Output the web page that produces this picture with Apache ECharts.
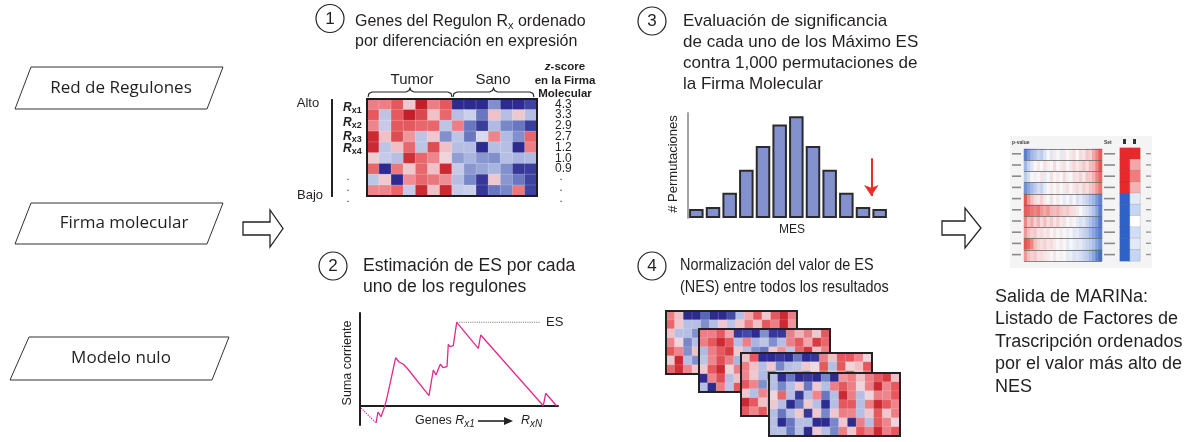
<!DOCTYPE html>
<html><head><meta charset="utf-8">
<script src="https://cdn.jsdelivr.net/npm/echarts@6/dist/echarts.min.js"></script>
<style>html,body{margin:0;padding:0;background:#fff}#c{width:1189px;height:442px}</style>
</head><body><div id="c"></div>
<script>
// ---------------- DATA ----------------
// Step 1: regulon genes x samples (z-like expression, + red / - blue)
const step1Cols = ['T1','T2','T3','T4','T5','T6','T7','S1','S2','S3','S4','S5','S6','S7'];
const step1Rows = ['g1','g2','g3','g4','g5','g6','g7','g8','g9'];
const step1Matrix = [
  [1.5, 1.5, 2, 0.5, 3, 1.5, 2, -3, -3, -3, -1.5, -3, -3, -2.6],
  [2, -0.7, 2, 3, 2.3, 0.6, 1.8, -0.8, -0.5, -1.8, 0.6, -0.8, 0.5, -0.8],
  [1.4, -0.6, 2, 2, 1.8, 1.8, -0.7, 1.5, -1.8, -2.7, -0.9, -1.6, -1.8, -2.7],
  [2.8, 0.6, 2.2, 1.2, -0.7, 0.5, -1.5, -0.7, -1.8, -0.3, 1.4, -0.9, -1.5, 1.8],
  [2.8, -0.7, 0.6, 1.8, -0.7, 2.2, 0.6, -0.8, -0.8, -3, -0.8, -0.8, -3, 1.5],
  [0.4, -0.6, -0.8, 2.7, 1.8, 1.4, 0.3, -1.3, -1, -1.4, -1.5, -0.8, -1, -0.9],
  [1.8, -3, 1.6, 0.5, 1.8, 0.6, 2.8, -0.6, -1.4, -1.2, -1, -1.5, -2.8, -2.7],
  [-0.7, 0.5, -3, 1.3, 1.8, 1.6, 1.3, -0.8, -1.6, -2.8, 0.5, -1.4, -1.8, -2.6],
  [1.4, 1.4, 1.8, -0.6, 2.8, 0.6, 2.8, -0.6, -0.5, -2.8, -1.8, -1.6, 1.6, -2.6]
];
const zScoreLabels = ['4.3','3.3','2.9','2.7','1.2','1.0','0.9','',''];
const regulonLabels = ['x1','x2','x3','x4'];

// Step 3: null distribution of MES over 1,000 permutations
const histBins = [0.5,1.5,2.5,3.5,4.5,5.5,6.5,7.5,8.5,9.5,10.5,11.5];
const histCounts = [17,21,48,92,137,178,194,137,92,48,21,17];
const observedMES = 11;

// Step 2: running sum
const runX = [16,18,21,22.7,25,27.7,29.7,35.7,39,43,45,47,69,73.3,76,80.3,83.3,87,88.3,90,93.3,96.7,118.3,120.7,183.3,185.7,196.7];
const runY = [-17,-6,-10.7,-11.3,0.3,11.7,10.3,48.3,44,42,42,38,10.3,36,31,41.7,38.3,39.3,61.7,59.3,60.3,83.7,57.7,71,0.3,12.7,0];
const startX = [1,16];
const startY = [-2,-17];
const esX = [97,180];
const esY = [83.7,83.7];

// Step 4: four normalised heatmaps (7 rows x 15 cols)
const panelCols = ['c1','c2','c3','c4','c5','c6','c7','c8','c9','c10','c11','c12','c13','c14','c15'];
const panelRows = ['r1','r2','r3','r4','r5','r6','r7'];
const panel1 = [
  [1.5, 0.6, -3, -3, -2, -3, -3, -2.5, -0.8, 1, 2, 0.5, 2, 2.8, 1.5],
  [1.8, 0.5, -0.8, -0.8, -1.5, -0.8, 0.5, -0.7, 0.5, 1.5, 0.6, 2, 1.5, 2.8, 1.2],
  [0.6, -0.8, -0.8, -1.5, 1, -1, 0.5, 1.5, -0.8, 1, 2, 0.6, -0.7, 1.5, 2],
  [1.4, 0.3, -1.6, -0.8, 0.6, 1.5, -1, 2, 0.5, -0.8, 1.5, 2.5, 1, 0.6, 1.8],
  [2, 1.4, -1.5, 0.6, -0.9, 1.8, 0.5, -1.2, 2.2, 1, -0.6, 1.5, 2, -0.8, 1.2],
  [0.5, 2.8, -0.8, -1.5, 1.6, 0.4, -0.9, 1.8, 0.6, 2.6, 1.2, -1, 0.5, 1.8, 2.4],
  [1.8, 2.7, 1.4, 0.5, 2.2, -0.7, 1.5, 0.4, 1.9, -1.1, 2.6, 1.3, 0.5, 2, 1.4]
];
const panel2 = [
  [1.5, 1.5, 2, 1, -2.8, -2.5, -3, -1.5, -2.8, -2.8, 1.5, 0.8, 1.5, 0.5, 2],
  [1.5, 2, 2.8, 2, -0.8, 1.5, -1, -0.7, -1.5, -0.8, 1.5, 2, 1, 2.5, 1.8],
  [-0.9, 1.5, 2, 2.5, 0.5, -0.8, -1.5, -1.8, 0.5, 1.2, -0.7, 1.8, 2.6, 0.6, 1.5],
  [-0.7, 1.4, 2.2, 1.5, -1, 0.6, 1.8, -0.8, 1.2, 2, 0.4, -1.3, 1.6, 2.2, 0.8],
  [0.5, 2, 2.8, 0.3, 1.5, -0.9, 0.5, 2.4, -0.6, 1.3, 1.8, 0.6, -0.8, 1.4, 2],
  [-3, 1.4, 2.2, -0.8, 0.6, 1.9, -1.2, 0.4, 2.1, -0.7, 1.5, 2.4, 0.6, -1, 1.3],
  [-0.8, -3, 1.5, -0.7, 2, 0.5, 1.6, -0.9, 0.7, 2.3, -1.2, 0.8, 1.9, 0.5, 2.2]
];
const panel3 = [
  [0.6, 2, -3, -3, -2.8, -3, -1.8, -3, -2.8, 1.5, 0.6, 2, 2, 1.4, 0.3],
  [1.5, 0.6, -0.8, 0.5, -1.6, -0.8, -0.7, 0.5, 0.2, 2, -0.8, 2, 0.3, 0.6, 2],
  [1.4, 0.5, -0.9, -1.5, 0.6, -0.8, 1.2, -1.4, 0.5, 1.8, -0.6, 1.2, 2.1, 0.5, 1.6],
  [2, 1.4, -1.5, -0.8, 1.8, 0.6, -1.3, 2, 0.4, -0.9, 1.5, 2.3, 0.6, 1.1, -0.7],
  [0.5, -0.8, 1.4, 1.2, -0.7, 1.9, 0.5, -1.1, 2.2, 1, -0.8, 0.6, 1.8, 2.4, 0.9],
  [2.8, 2, 0.6, -0.9, 1.4, 0.3, 2.1, 0.8, -1.2, 1.6, 2.5, -0.6, 0.9, 1.5, 2],
  [2, 1.4, 2, 0.7, -1, 1.5, 0.6, 2.2, 1.3, -0.8, 0.5, 1.9, 2.4, 0.7, 1.2]
];
const panel4 = [
  [-0.8, -3, -1.8, -3, -2.8, -3, -1.6, -3, 1.2, 1.5, 0.6, 1.5, 2, 2.5, 0.6],
  [-0.8, -1.6, -0.8, 0.5, -1.8, 0.5, -0.8, 1.5, 2, 1.5, 0.3, 1.5, 2.8, 1.4, 2],
  [0.3, 1.8, -0.8, -2.8, -0.8, 1.4, -1.8, -0.8, 2.8, 1.5, -0.8, 0.3, 1.5, 1.4, 2],
  [0.5, -0.8, -3, -1.8, 0.5, -0.8, -3, -0.8, 2, 2, -0.8, 1.5, 2.8, 2, 1.4],
  [-0.8, -1.8, -0.8, 0.5, -2.8, 0.5, -1.6, 0.5, 1.5, 1.4, -0.8, 0.5, 2, 0.5, 1.5],
  [-0.8, -3, -1.8, -0.8, -0.8, -3, -3, -1.6, 0.5, -3, 1.5, -0.8, 2, 1.4, 0.3],
  [-0.8, -0.8, -1.8, -0.8, -3, 0.5, -0.8, -1.6, 1.5, 0.5, 2, 1.5, 2.8, 1.5, 2]
];

// Output: MARINa barcode rows and NES columns
const barcodeCols = Array.from({length: 24}, (_, i) => 'b' + i);
const barcodeRows = ['t1','t2','t3','t4','t5','t6','t7','t8','t9','t10'];
const barcodeMatrix = [
  [-2.5,-2,-1.5,-1.2,-0.8,-1,-0.5,0,-0.4,0.3,0,-0.3,0.4,0,0.3,0.5,0,0.6,0.4,1,0.8,1.6,2,2.5],
  [-1.5,-0.8,-0.4,0,0.3,0,0.5,0.2,0,0.6,0,0.3,0.5,0,0.4,0.7,0.3,0.6,1,0.5,1.2,1.4,2,2.6],
  [-1,-0.6,0,0.2,0,0.4,-0.3,0,0.5,0,0.3,0,0.6,0.2,0,0.5,0.4,0.8,0.3,1,0.9,1.5,2,2.4],
  [-2.2,-1.8,-1.4,-1,-0.6,-0.8,-0.3,0,0.3,0,0.4,0,0.3,0.5,0,0.4,0.6,0.3,0.8,0.5,1,1.3,1.8,2.2],
  [2.6,1.8,1.2,0.6,0.4,0.8,0.3,0,0.5,0,0.3,0,-0.3,0,-0.4,0,-0.5,-0.3,-0.6,-0.8,-1.2,-1.5,-2,-2.4],
  [2.5,2.4,2.2,2,2.2,1.8,1.6,1.8,1.4,1.2,1.5,1,0.8,1,0.6,0.5,0.3,0,-0.3,-0.5,-0.8,-1.2,-1.8,-2.5],
  [2,1.2,1.6,0.8,1.4,0.6,1.2,0.5,1,0.4,0.8,0.3,0.5,0,0.3,0,-0.3,-0.5,-0.4,-0.8,-1.2,-1.6,-2,-2.6],
  [1.8,1.2,0.8,1,0.4,0.6,0.3,0.5,0,0.4,0,0.3,0,-0.2,0,-0.4,-0.3,-0.6,-0.8,-1,-1.5,-1.8,-2.2,-2.5],
  [2.6,2.4,2,1.2,0.8,0.5,0.8,0.4,0.6,0.3,0,0.3,0,-0.3,0,-0.2,-0.4,-0.3,-0.6,-0.8,-1,-1.3,-1.8,-2.2],
  [1.8,1.2,0.8,1,0.5,0.6,0.4,0.3,0,0.4,0,0.2,0,-0.3,-0.2,-0.5,-0.4,-0.6,-0.8,-1,-1.4,-1.8,-2.4,-2.8]
];
const nesCol1 = [3,3,3,3,-3,-3,-3,-3,-3,-3];
const nesCol2 = [3,1.5,2,1.3,-0.5,-1,0,-0.8,-0.5,-1];

// ---------------- BUILD ----------------
const FF = '"Liberation Sans", Arial, Helvetica, sans-serif';
const FP = '"Open Sans", "Noto Sans", sans-serif';
const INK = '#231f20';

function cells(m) {
  const out = [];
  m.forEach((row, r) => row.forEach((v, c) => out.push([c, r, v])));
  return out;
}
function txt(x, y, text, size, o) {
  o = o || {};
  const st = {
    text: text, fontSize: size, fontFamily: o.family || FF, fill: o.fill || INK,
    fontWeight: o.weight || 'normal', fontStyle: o.fstyle || 'normal',
    align: o.align || 'left', textAlign: o.align || 'left',
    verticalAlign: 'middle', textVerticalAlign: 'middle'
  };
  if (o.rich) st.rich = o.rich;
  const el = { type: 'text', x: x, y: y, z: 20, style: st };
  if (o.rotation) el.rotation = o.rotation;
  if (o.scaleX) el.scaleX = o.scaleX;
  return el;
}
const heatColors = ['#2d2b8f', '#5868b8', '#a9b5e0', '#ece9f1', '#f2a5ab', '#e5585e', '#c41f28'];

const G = [];
// input parallelograms
const para = (pts) => ({ type: 'polygon', z: 5, shape: { points: pts }, style: { fill: '#fff', stroke: '#333', lineWidth: 1 } });
G.push(para([[31,67],[223,67],[207,109],[15,109]]));
G.push(para([[31,203],[223,203],[207,244],[15,244]]));
G.push(para([[29,337],[229,337],[212,380],[10,380]]));
G.push(txt(121, 88, 'Red de Regulones', 17, { family: FP, align: 'center' }));
G.push(txt(124, 223, 'Firma molecular', 17, { family: FP, align: 'center' }));
G.push(txt(121, 358, 'Modelo nulo', 17, { family: FP, align: 'center' }));
// block arrows
const blockArrow = (x0, xh, xt, y0, y1, h0, h1) => ({
  type: 'polygon', z: 5,
  shape: { points: [[x0,y0],[xh,y0],[xh,h0],[xt,(h0+h1)/2],[xh,h1],[xh,y1],[x0,y1]] },
  style: { fill: '#fff', stroke: '#222', lineWidth: 1.3 }
});
G.push(blockArrow(243, 270, 283, 222, 235, 210, 247));
G.push(blockArrow(942, 965, 981, 221, 235, 208, 248));
// numbered circles
[[330,18.5,'1'],[333,266,'2'],[652,21,'3'],[652,266,'4']].forEach(c => {
  G.push({ type: 'circle', z: 20, shape: { cx: c[0], cy: c[1], r: 14 }, style: { fill: 'none', stroke: '#222', lineWidth: 1.2 } });
  G.push(txt(c[0], c[1] + 0.5, c[2], 17, { align: 'center' }));
});
const subRich = { s: { fontSize: 11, fontFamily: FF, fill: INK, padding: [7, 0, 0, 0] } };
// step titles
G.push(txt(355, 22, 'Genes del Regulon R{s|x} ordenado', 16, { rich: subRich }));
G.push(txt(355, 42, 'por diferenciación en expresión', 16));
G.push(txt(363, 266, 'Estimación de ES por cada', 17.6));
G.push(txt(363, 287, 'uno de los regulones', 17.6));
G.push(txt(683, 21, 'Evaluación de significancia', 17));
G.push(txt(683, 42, 'de cada uno de los Máximo ES', 17));
G.push(txt(683, 63, 'contra 1,000 permutaciones de', 17));
G.push(txt(683, 84, 'la Firma Molecular', 17));
G.push(txt(680, 265, 'Normalización del valor de ES', 17, { scaleX: 0.85 }));
G.push(txt(680, 287, '(NES) entre todos los resultados', 17, { scaleX: 0.85 }));
['Salida de MARINa:', 'Listado de Factores de', 'Trascripción ordenados', 'por el valor más alto de', 'NES']
  .forEach((t, i) => G.push(txt(995, 297 + i * 22.5, t, 18)));
// step 1 annotations
G.push(txt(412, 80, 'Tumor', 15, { align: 'center' }));
G.push(txt(493, 80, 'Sano', 15, { align: 'center' }));
const brace = (a, b, y) => {
  const m = (a + b) / 2;
  return { type: 'polyline', z: 20, shape: { points: [[a,y+5],[a+1,y+1.5],[a+4,y],[m-4,y],[m-1,y-1.5],[m,y-4],[m+1,y-1.5],[m+4,y],[b-4,y],[b-1,y+1.5],[b,y+5]] },
    style: { stroke: '#222', fill: 'none', lineWidth: 1.1 } };
};
G.push(brace(368, 452, 92));
G.push(brace(453, 534, 92));
G.push(txt(565, 67, '{i|z}-score', 11.5, { weight: 'bold', align: 'center', rich: { i: { fontStyle: 'italic', fontWeight: 'bold', fontSize: 11.5, fontFamily: FF, fill: INK } } }));
G.push(txt(565, 81, 'en la Firma', 11.5, { weight: 'bold', align: 'center' }));
G.push(txt(565, 94, 'Molecular', 11.5, { weight: 'bold', align: 'center' }));
G.push(txt(308, 103, 'Alto', 13, { align: 'center' }));
G.push(txt(310, 195, 'Bajo', 13, { align: 'center' }));
G.push({ type: 'line', z: 20, shape: { x1: 332, y1: 99, x2: 332, y2: 197 }, style: { stroke: '#222', lineWidth: 2 } });
const rRich = { s: { fontSize: 9, fontWeight: 'bold', fontFamily: FF, fill: INK, padding: [6, 0, 0, 0] } };
[108, 123, 137, 149].forEach((y, i) =>
  G.push(txt(343, y, 'R{s|' + regulonLabels[i] + '}', 12, { weight: 'bold', fstyle: 'italic', rich: rRich })));
G.push(txt(348, 188, '.\n.\n.', 11, { align: 'center' }));
G.push(txt(561, 188, '.\n.\n.', 11, { align: 'center' }));
// step 3 labels
G.push(txt(792, 230, 'MES', 12, { align: 'center' }));
G.push(txt(673, 164, '# Permutaciones', 13, { align: 'center', rotation: Math.PI / 2 }));
// step 2 labels
G.push(txt(348, 363, 'Suma corriente', 12.5, { align: 'center', rotation: Math.PI / 2 }));
const gRich = { r: { fontSize: 12.5, fontStyle: 'italic', fontFamily: FF, fill: INK }, s: { fontSize: 10, fontStyle: 'italic', fontFamily: FF, fill: INK, padding: [6, 0, 0, 0] } };
G.push(txt(415, 421, 'Genes {r|R}{s|x1}', 12.5, { rich: gRich }));
G.push({ type: 'line', z: 20, shape: { x1: 478, y1: 421, x2: 506, y2: 421 }, style: { stroke: '#222', lineWidth: 1.6 } });
G.push({ type: 'polygon', z: 20, shape: { points: [[504,417],[513,421],[504,425]] }, style: { fill: '#222' } });
G.push(txt(521, 421, '{r|R}{s|xN}', 12.5, { rich: gRich }));
// output thumbnail decorations
G.push({ type: 'rect', z: 0, shape: { x: 1010, y: 136, width: 142, height: 132 }, style: { fill: '#f4f4f4' } });
G.push(txt(1012, 143, 'p-value', 5, { weight: 'bold', fill: '#444' }));
G.push(txt(1104, 143, 'Set', 5, { weight: 'bold', fill: '#444' }));
G.push({ type: 'rect', z: 20, shape: { x: 1123, y: 139, width: 3, height: 5 }, style: { fill: '#333' } });
G.push({ type: 'rect', z: 20, shape: { x: 1133, y: 139, width: 3, height: 5 }, style: { fill: '#333' } });
for (let i = 0; i < 10; i++) {
  const y = 153 + i * 11.2;
  G.push({ type: 'rect', z: 20, shape: { x: 1012, y: y, width: 9, height: 1.6 }, style: { fill: '#8a8a8a' } });
  G.push({ type: 'rect', z: 20, shape: { x: 1104, y: y, width: 11, height: 1.6 }, style: { fill: '#8a8a8a' } });
  G.push({ type: 'rect', z: 20, shape: { x: 1146, y: y, width: 5, height: 1.4 }, style: { fill: '#9a9a9a' } });
}

// grids
const panelPos = [[666,311],[699,329],[741,353],[769,373]];
const grids = [
  { left: 367, top: 99, width: 170, height: 97, show: true, borderColor: '#1e1e1e', borderWidth: 2, z: 3 },
  { left: 688, top: 113, width: 200, height: 105 },
  { left: 360, top: 313, width: 198, height: 112 }
];
panelPos.forEach((p, k) => grids.push({ left: p[0], top: p[1], width: 131, height: 63, show: true, borderColor: '#222', borderWidth: 2, z: 3 + 2 * k }));
grids.push({ left: 1024, top: 149, width: 78, height: 112 });
grids.push({ left: 1120, top: 148, width: 20, height: 113 });

const hidden = { show: false };
const xAxes = [
  { type: 'category', gridIndex: 0, data: step1Cols, show: false },
  { type: 'value', gridIndex: 1, min: 0, max: 12, show: false },
  { type: 'value', gridIndex: 2, min: 0, max: 198, axisLine: { show: true, onZero: true, lineStyle: { color: '#1e1e1e', width: 2 } }, axisTick: hidden, axisLabel: hidden, splitLine: hidden }
];
const yAxes = [
  { type: 'category', gridIndex: 0, data: step1Rows, inverse: true, show: false },
  { type: 'category', gridIndex: 0, data: zScoreLabels, inverse: true, position: 'right', axisLine: hidden, axisTick: hidden, splitLine: hidden,
    axisLabel: { show: true, interval: 0, margin: 18, fontSize: 12, fontFamily: FF, color: INK, padding: [4, 0, 0, 0] } },
  { type: 'value', gridIndex: 1, min: 0, max: 200, axisLine: { show: true, lineStyle: { color: '#a3a3a3', width: 2 } }, axisTick: hidden, axisLabel: hidden, splitLine: hidden },
  { type: 'value', gridIndex: 2, min: -19, max: 93, axisLine: { show: true, onZero: true, lineStyle: { color: '#1e1e1e', width: 2 } }, axisTick: hidden, axisLabel: hidden, splitLine: hidden }
];
for (let k = 0; k < 4; k++) {
  xAxes.push({ type: 'category', gridIndex: 3 + k, data: panelCols, show: false });
  yAxes.push({ type: 'category', gridIndex: 3 + k, data: panelRows, inverse: true, show: false });
}
xAxes.push({ type: 'category', gridIndex: 7, data: barcodeCols, show: false });
yAxes.push({ type: 'category', gridIndex: 7, data: barcodeRows, inverse: true, z: 6, axisLine: hidden, axisTick: hidden, axisLabel: hidden,
  splitLine: { show: true, interval: 0, lineStyle: { color: '#6a6a6a', width: 0.8 } } });
xAxes.push({ type: 'category', gridIndex: 8, data: ['NES1', 'NES2'], show: false });
yAxes.push({ type: 'category', gridIndex: 8, data: barcodeRows, inverse: true, show: false });

const nesMatrix = nesCol1.map((v, i) => [v, nesCol2[i]]);

const series = [
  { type: 'heatmap', xAxisIndex: 0, yAxisIndex: 0, data: cells(step1Matrix), z: 2,
    itemStyle: { borderColor: 'rgba(255,255,255,0.3)', borderWidth: 0.6 } },
  { type: 'bar', xAxisIndex: 1, yAxisIndex: 2, data: histBins.map((b, i) => [b, histCounts[i]]), barWidth: 14.5,
    itemStyle: { color: '#8391cf', borderColor: '#2b2b2b', borderWidth: 2 },
    markLine: { silent: true, symbol: ['none', 'arrow'], symbolSize: 11, label: { show: false },
      lineStyle: { color: '#e8302a', width: 2, type: 'solid' },
      data: [[{ coord: [observedMES, 114] }, { coord: [observedMES, 42] }]] } },
  { type: 'line', xAxisIndex: 2, yAxisIndex: 3, data: startX.map((x, i) => [x, startY[i]]), symbol: 'none',
    lineStyle: { color: '#e2298d', width: 1.2, type: 'dotted' } },
  { type: 'line', xAxisIndex: 2, yAxisIndex: 3, data: runX.map((x, i) => [x, runY[i]]), symbol: 'none',
    lineStyle: { color: '#e2298d', width: 1.3 } },
  { type: 'line', xAxisIndex: 2, yAxisIndex: 3, data: esX.map((x, i) => [x, esY[i]]), symbol: 'none',
    lineStyle: { color: '#7a7a7a', width: 1.1, type: 'dotted' },
    endLabel: { show: true, formatter: 'ES', distance: 6, fontSize: 13, fontFamily: FF, color: INK } }
];
[panel1, panel2, panel3, panel4].forEach((m, k) => series.push({
  type: 'heatmap', xAxisIndex: 3 + k, yAxisIndex: 4 + k, data: cells(m), z: 2 + 2 * k,
  itemStyle: { borderColor: 'rgba(255,255,255,0.3)', borderWidth: 0.5 }
}));
series.push({ type: 'heatmap', xAxisIndex: 7, yAxisIndex: 8, data: cells(barcodeMatrix), z: 2 });
series.push({ type: 'heatmap', xAxisIndex: 8, yAxisIndex: 9, data: cells(nesMatrix), z: 2,
  itemStyle: { borderColor: 'rgba(90,90,90,0.35)', borderWidth: 0.5 } });

const option = {
  animation: false,
  backgroundColor: '#fff',
  grid: grids,
  xAxis: xAxes,
  yAxis: yAxes,
  visualMap: [
    { type: 'continuous', show: false, min: -3, max: 3, seriesIndex: [0, 5, 6, 7, 8], inRange: { color: heatColors } },
    { type: 'continuous', show: false, min: -3, max: 3, seriesIndex: [9], inRange: { color: ['#3a62bf', '#9fb6e6', '#f7f7f9', '#f3b0b0', '#e0352f'] } },
    { type: 'continuous', show: false, min: -3, max: 3, seriesIndex: [10], inRange: { color: ['#2f62c8', '#a9c0ea', '#ffffff', '#f4a6a6', '#e8282a'] } }
  ],
  series: series,
  graphic: { elements: G }
};
const chart = echarts.init(document.getElementById('c'), null, { renderer: 'canvas' });
chart.setOption(option);
</script>
</body></html>
